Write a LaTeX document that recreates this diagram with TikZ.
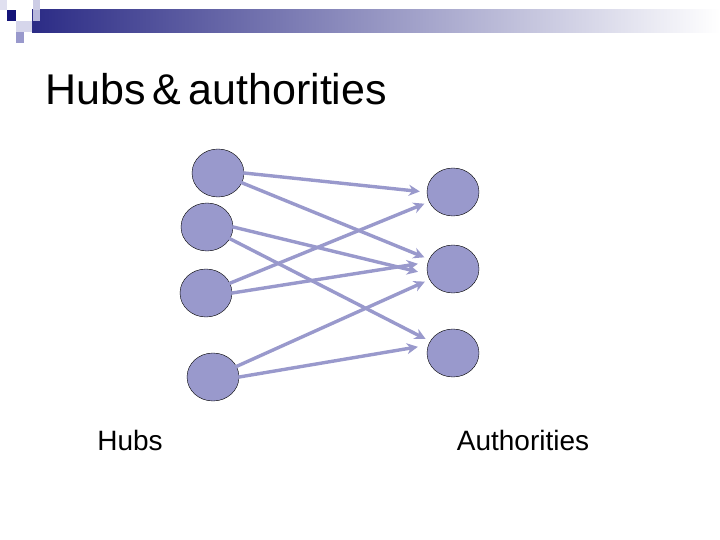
\documentclass[tikz,border=0pt]{standalone}
\usepackage{fontspec}
\setmainfont{Liberation Sans}
\begin{document}
\begin{tikzpicture}[x=1pt,y=-1pt,
  nd/.style={ellipse,draw=black,thin,fill=nodefill,minimum width=52pt,minimum height=48pt,inner sep=0pt},
  ar/.style={draw=edgecol,line width=3.4pt,-{Stealth[length=11pt,width=11pt]},shorten >=5pt,shorten <=-1pt}]
\usetikzlibrary{shapes.geometric,arrows.meta}
\definecolor{nodefill}{RGB}{153,153,204}
\definecolor{edgecol}{RGB}{153,153,204}
\definecolor{navy}{RGB}{20,20,120}
\useasboundingbox (0,0) rectangle (720,540);
\fill[white] (0,0) rectangle (720,540);
% header bar
\shade[left color=navy!90!white,right color=white] (32,10) rectangle (720,33);
\fill[navy] (7,10) rectangle (16,21);
\fill[nodefill!50!white] (33,0) rectangle (40,10);
\fill[nodefill!70!white] (33,10) rectangle (40,21);
\fill[nodefill!40!white] (16,21) rectangle (32,32);
\fill[nodefill] (16,32) rectangle (24,43);
\fill[nodefill!30!white] (0,0) rectangle (7,10);
\node[anchor=base west,inner sep=0pt,font=\fontsize{43}{48}\selectfont] (title) at (45,105) {Hubs\,\&\,authorities};
% nodes
\node[nd] (h1) at (218,173) {};
\node[nd] (h2) at (207,227) {};
\node[nd] (h3) at (206,293) {};
\node[nd] (h4) at (213,377) {};
\node[nd] (a1) at (453,192) {};
\node[nd] (a2) at (453,269) {};
\node[nd] (a3) at (453,353) {};
% edges
\draw[ar] (h1.east) -- ([xshift=-2pt]a1.west);
\draw[ar] (h1) -- (a2);
\draw[ar] (h2.east) -- ([xshift=-4pt,yshift=-4pt]a2.west);
\draw[ar] (h2) -- (a3);
\draw[ar] (h3) -- (a1);
\draw[ar] (h3.east) -- ([xshift=-4pt,yshift=6pt]a2.west);
\draw[ar] (h4) -- (a2);
\draw[ar] (h4.east) -- ([xshift=-4pt,yshift=7pt]a3.west);
\node[font=\fontsize{28}{32}\selectfont] (lh) at (130,440) {Hubs};
\node[font=\fontsize{28}{32}\selectfont] (la) at (523,440) {Authorities};
\end{tikzpicture}
\end{document}
